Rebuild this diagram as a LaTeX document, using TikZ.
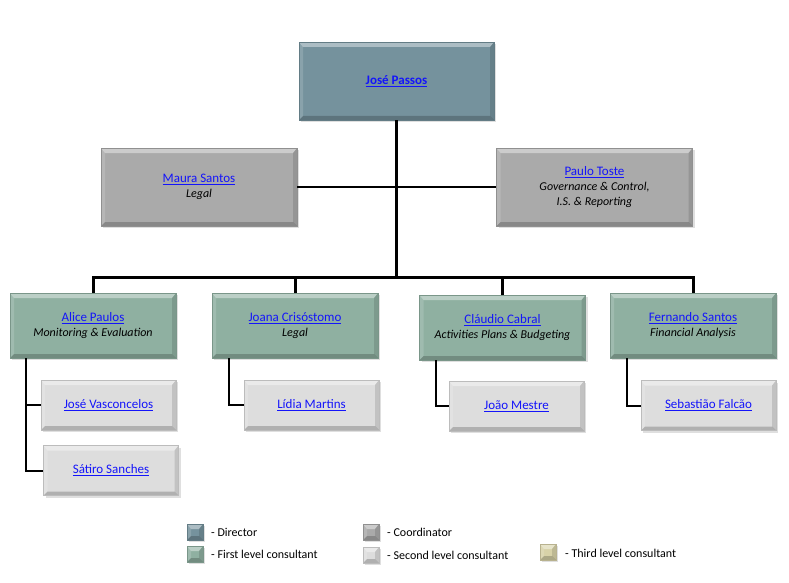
\documentclass[tikz,border=0pt]{standalone}
\usepackage{fontspec}
\setmainfont{Carlito}
\usetikzlibrary{shadows}

\definecolor{dircol}{RGB}{117,146,157}
\definecolor{coordcol}{RGB}{170,170,170}
\definecolor{firstcol}{RGB}{143,176,161}
\definecolor{secondcol}{RGB}{221,221,221}
\definecolor{thirdcol}{RGB}{216,210,168}
\definecolor{linkblue}{RGB}{20,20,250}

\newcommand{\pname}[1]{\textcolor{linkblue}{\underline{#1}}}
\newcommand{\prole}[1]{{\fontsize{12}{14}\selectfont\itshape #1}}

\begin{document}
\begin{tikzpicture}[%
  x=1pt, y=-1pt,
  bevel/.style={path picture={
    \fill[white, opacity=0.4] (path picture bounding box.north west) -- (path picture bounding box.north east)
      -- ([shift={(-4pt,-5pt)}]path picture bounding box.north east) -- ([shift={(4pt,-5pt)}]path picture bounding box.north west) -- cycle;
    \fill[white, opacity=0.15] (path picture bounding box.north west) -- ([shift={(4pt,-5pt)}]path picture bounding box.north west)
      -- ([shift={(4pt,4pt)}]path picture bounding box.south west) -- (path picture bounding box.south west) -- cycle;
    \fill[black, opacity=0.12] (path picture bounding box.north east) -- ([shift={(-4pt,-5pt)}]path picture bounding box.north east)
      -- ([shift={(-4pt,4pt)}]path picture bounding box.south east) -- (path picture bounding box.south east) -- cycle;
    \fill[black, opacity=0.2] (path picture bounding box.south west) -- (path picture bounding box.south east)
      -- ([shift={(-4pt,4pt)}]path picture bounding box.south east) -- ([shift={(4pt,4pt)}]path picture bounding box.south west) -- cycle;
  }},
  orgbox/.style={rectangle, bevel, inner sep=0pt, align=center, font=\fontsize{13}{15}\selectfont,
    drop shadow={opacity=0.25, shadow xshift=2pt, shadow yshift=-2pt}},
  director/.style={orgbox, fill=dircol, draw=dircol!85!black, minimum width=195pt, minimum height=78pt},
  coord/.style={orgbox, fill=coordcol, draw=coordcol!85!black, minimum width=196pt, minimum height=78pt},
  first/.style={orgbox, fill=firstcol, draw=firstcol!85!black, minimum width=166pt, minimum height=65pt},
  second/.style={orgbox, fill=secondcol, draw=secondcol!85!black, minimum width=135pt, minimum height=50pt},
  keybox/.style={orgbox, minimum width=16pt, minimum height=16pt,
    drop shadow={opacity=0.2, shadow xshift=1pt, shadow yshift=-1pt}},
  keytext/.style={anchor=west, inner sep=0pt, font=\fontsize{12}{14}\selectfont},
  bus/.style={line width=3pt},
  branch/.style={line width=2pt},]
  \useasboundingbox (0,0) rectangle (789,583);
  {\fontsize{13}{15}\selectfont
    % director and coordinators
    \node[director] (passos) at (396.5,81) {\textbf{\pname{José Passos}}};
    \node[coord] (maura) at (199,187) {\pname{Maura Santos}\\\prole{Legal}};
    \node[coord] (paulo) at (594.5,187) {\pname{Paulo Toste}\\\prole{Governance \& Control,}\\\prole{I.S. \& Reporting}};
    % first level
    \node[first] (alice) at (93,325.5) {\pname{Alice Paulos}\\\prole{Monitoring \& Evaluation}};
    \node[first] (joana) at (295,325.5) {\pname{Joana Crisóstomo}\\\prole{Legal}};
    \node[first] (claudio) at (502.5,327.5) {\pname{Cláudio Cabral}\\\prole{Activities Plans \& Budgeting}};
    \node[first] (fernando) at (693,325.5) {\pname{Fernando Santos}\\\prole{Financial Analysis}};
    % second level
    \node[second] (vasconcelos) at (108.5,405) {\pname{José Vasconcelos}};
    \node[second] (satiro) at (111,470.5) {\pname{Sátiro Sanches}};
    \node[second] (lidia) at (311.5,405) {\pname{Lídia Martins}};
    \node[second] (mestre) at (516.5,406) {\pname{João Mestre}};
    \node[second] (falcao) at (708.5,405.5) {\pname{Sebastião Falcão}};

    \coordinate (bus) at (396.5,277);
    \draw[bus] (passos) -- (bus);
    \draw[branch] (maura) -- (paulo);
    \draw[bus] (alice.north) -- (alice.north |- bus) -- (fernando.north |- bus) -- (fernando.north);
    \draw[bus] (joana.north) -- (joana.north |- bus);
    \draw[bus] (claudio.north) -- (claudio.north |- bus);

    \draw[branch] ([xshift=16pt]alice.south west) |- (satiro.west);
    \draw[branch] ([xshift=16pt]alice.south west |- vasconcelos.west) -- (vasconcelos.west);
    \draw[branch] ([xshift=17pt]joana.south west) |- (lidia.west);
    \draw[branch] ([xshift=17pt]claudio.south west) |- (mestre.west);
    \draw[branch] ([xshift=17pt]fernando.south west) |- (falcao.west);

    % legend
    \node[keybox, fill=dircol, draw=dircol!85!black] (keydir) at (195,532) {};
    \node[keytext] (txtdir) at (211,532) {- Director};
    \node[keybox, fill=firstcol, draw=firstcol!85!black] (keyfirst) at (195,554) {};
    \node[keytext] (txtfirst) at (211,554) {- First level consultant};
    \node[keybox, fill=coordcol, draw=coordcol!85!black] (keycoord) at (371,532) {};
    \node[keytext] (txtcoord) at (387,532) {- Coordinator};
    \node[keybox, fill=secondcol, draw=secondcol!85!black] (keysecond) at (371,555) {};
    \node[keytext] (txtsecond) at (387,555) {- Second level consultant};
    \node[keybox, fill=thirdcol, draw=thirdcol!85!black] (keythird) at (548,552) {};
    \node[keytext] (txtthird) at (565,553) {- Third level consultant};
  }
\end{tikzpicture}
\end{document}
